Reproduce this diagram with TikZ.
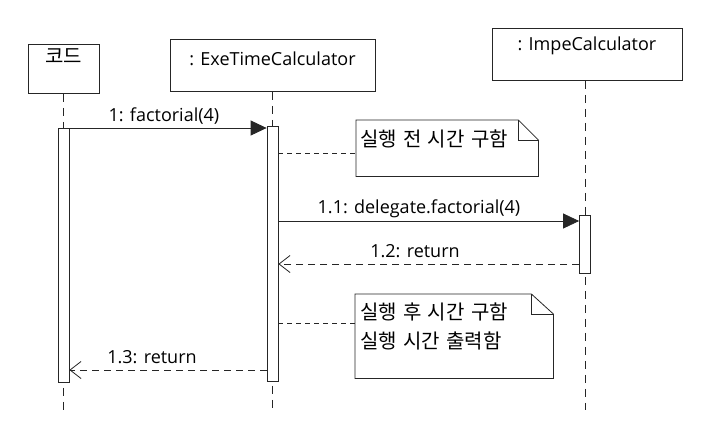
\documentclass[tikz,border=0pt]{standalone}
\usepackage{fontspec}
\setmainfont{Open Sans}
\newfontfamily\kr[WordSpace=1.4]{Noto Sans CJK KR}
\usetikzlibrary{arrows.meta,calc}
\begin{document}
\begin{tikzpicture}[x=1pt,y=-1pt,
  line/.style={draw=black!85,line width=0.8pt},
  objbox/.style={line,rectangle,inner xsep=0pt,inner ysep=0pt,anchor=north,font=\fontsize{18}{22}\selectfont},
  act/.style={line,rectangle,fill=white,minimum width=11pt,inner sep=0pt},
  lifeline/.style={line,dash pattern=on 8pt off 6pt},
  sync/.style={line,-{Triangle[length=16pt,width=15pt]}},
  reply/.style={line,dash pattern=on 7pt off 5pt,-{Straight Barb[length=11pt,width=17pt,line width=0.8pt]}},
  notelink/.style={line,dash pattern=on 5pt off 4pt},
  msg/.style={font=\fontsize{18}{22}\selectfont,inner sep=0pt},
  notearea/.style={rectangle,inner sep=0pt,anchor=north west},
  notetext/.style={font=\kr\fontsize{20}{29}\selectfont,inner sep=0pt,anchor=north west,align=left},
]
\useasboundingbox[fill=white] (0,0) rectangle (702,421);

% objects
\node[objbox,minimum width=71pt,text height=19pt,text depth=30pt] (kode) at (63.5,44) {\kr\fontsize{20}{22}\selectfont 코드};
\node[objbox,minimum width=205pt,text height=26pt,text depth=26pt] (exe) at (272.5,39) {: ExeTimeCalculator};
\node[objbox,minimum width=190pt,text height=22pt,text depth=30pt] (impe) at (587,28) {: ImpeCalculator};

% lifeline ends
\coordinate (kodeend) at (63.5,410);
\coordinate (exeend) at (272.5,410);
\coordinate (impeend) at (585,410);

\draw[lifeline] (kode.south) -- (kodeend);
\draw[lifeline] (exe.south) -- (exeend);
\draw[lifeline] (impe.south -| impeend) -- (impeend);

% activations
\node[act,minimum height=254pt] (kact) at (63.5,255) {};
\node[act,minimum height=255pt] (eact) at (272.5,253.5) {};
\node[act,minimum height=58pt] (iact) at (585,244) {};

% message rows
\coordinate (y1) at (0,128);
\coordinate (y11) at (0,221);
\coordinate (y12) at (0,264);
\coordinate (y13) at (0,370);
\coordinate (yn1) at (0,153);
\coordinate (yn2) at (0,323);

\draw[sync] (kact.east |- y1) -- (eact.west |- y1);
\node[msg] (l1) at (164,116) {1: factorial(4)};

\draw[sync] (eact.east |- y11) -- (iact.west |- y11);
\node[msg] (l11) at (419,209) {1.1: delegate.factorial(4)};

\draw[reply] (iact.west |- y12) -- (eact.east |- y12);
\node[msg] (l12) at (415,251) {1.2: return};

\draw[reply] (eact.west |- y13) -- (kact.east |- y13);
\node[msg] (l13) at (152,357) {1.3: return};

% notes
\node[notearea,minimum width=182pt,minimum height=56pt] (n1) at (356,120) {};
\draw[line] (n1.north west) -- ($(n1.north east)+(-20,0)$) -- ($(n1.north east)+(0,20)$) -- (n1.south east) -- (n1.south west) -- cycle;
\draw[line] ($(n1.north east)+(-20,0)$) -- ($(n1.north east)+(-20,20)$) -- ($(n1.north east)+(0,20)$);
\node[notetext] (t1) at ($(n1.north west)+(4,10)$) {실행 전 시간 구함};

\node[notearea,minimum width=198pt,minimum height=84pt] (n2) at (355,294) {};
\draw[line] (n2.north west) -- ($(n2.north east)+(-22,0)$) -- ($(n2.north east)+(0,20)$) -- (n2.south east) -- (n2.south west) -- cycle;
\draw[line] ($(n2.north east)+(-22,0)$) -- ($(n2.north east)+(-22,20)$) -- ($(n2.north east)+(0,20)$);
\node[notetext] (t2) at ($(n2.north west)+(5,9)$) {실행 후 시간 구함\\실행 시간 출력함};

\draw[notelink] (eact.east |- yn1) -- (n1.west |- yn1);
\draw[notelink] (eact.east |- yn2) -- (n2.west |- yn2);
\end{tikzpicture}
\end{document}
